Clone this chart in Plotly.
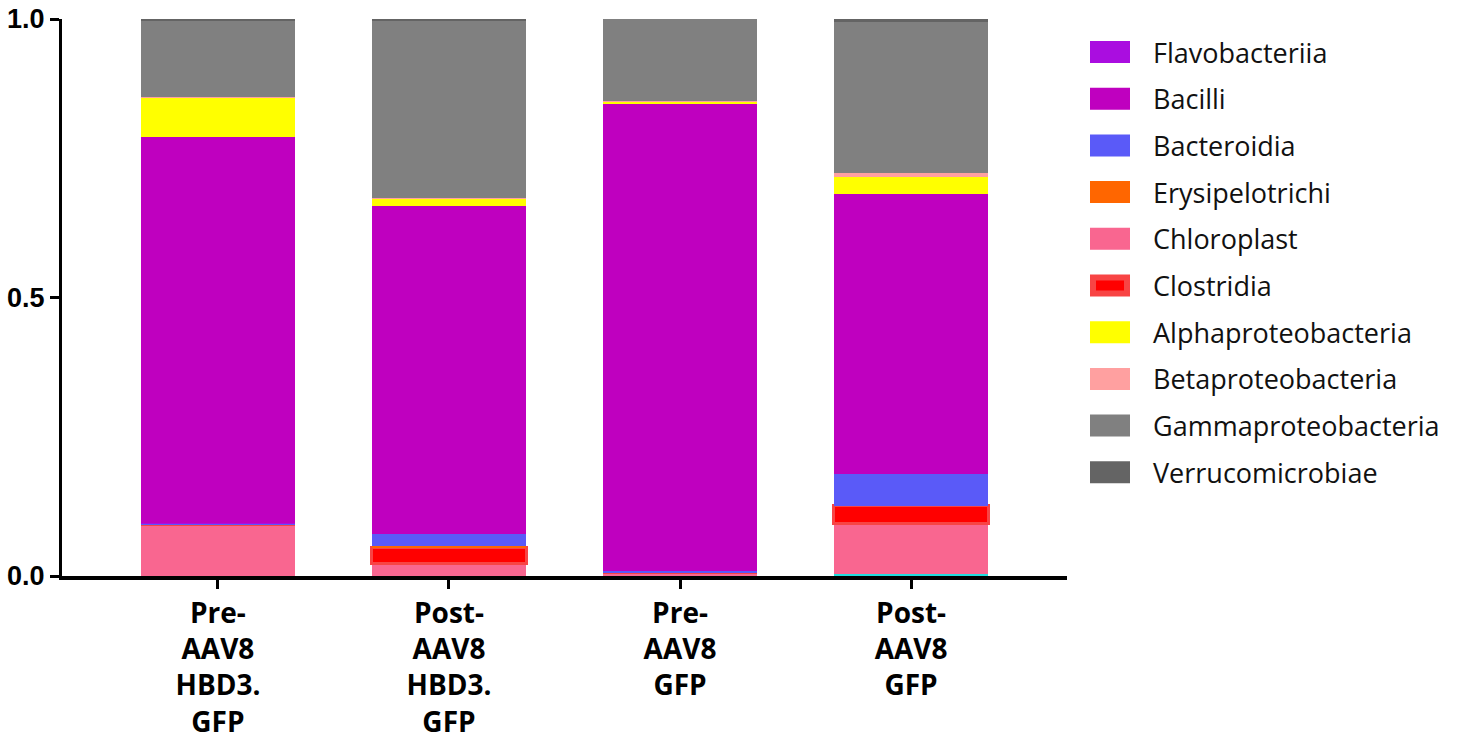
import plotly.graph_objects as go

categories = ["Pre-<br>AAV8<br>HBD3.<br>GFP", "Post-<br>AAV8<br>HBD3.<br>GFP",
              "Pre-<br>AAV8<br>GFP", "Post-<br>AAV8<br>GFP"]

# stacked bottom -> top
other = [0.0, 0.0, 0.0, 0.003]
chloroplast = [0.093, 0.022, 0.006, 0.092]
clostridia = [0.0, 0.029, 0.0, 0.031]
erysipelotrichi = [0.0, 0.002, 0.0, 0.0]
bacteroidia = [0.002, 0.023, 0.003, 0.057]
flavobacteriia = [0.001, 0.0, 0.0, 0.0]
bacilli = [0.693, 0.589, 0.838, 0.503]
alphaproteobacteria = [0.070, 0.012, 0.005, 0.031]
betaproteobacteria = [0.001, 0.002, 0.001, 0.007]
gammaproteobacteria = [0.137, 0.317, 0.147, 0.271]
verrucomicrobiae = [0.003, 0.004, 0.0, 0.005]

stack = [
    ("Other", other, "#22DDDD", None),
    ("Chloroplast", chloroplast, "#F96690", None),
    ("Clostridia", clostridia, "#FF0000", "#F84444"),
    ("Erysipelotrichi", erysipelotrichi, "#FF6600", None),
    ("Bacteroidia", bacteroidia, "#5A5AF8", None),
    ("Flavobacteriia", flavobacteriia, "#AA0DE0", None),
    ("Bacilli", bacilli, "#BF00BF", None),
    ("Alphaproteobacteria", alphaproteobacteria, "#FFFF00", None),
    ("Betaproteobacteria", betaproteobacteria, "#FFA0A0", None),
    ("Gammaproteobacteria", gammaproteobacteria, "#808080", None),
    ("Verrucomicrobiae", verrucomicrobiae, "#646464", None),
]

legend_order = ["Flavobacteriia", "Bacilli", "Bacteroidia", "Erysipelotrichi", "Chloroplast",
                "Clostridia", "Alphaproteobacteria", "Betaproteobacteria",
                "Gammaproteobacteria", "Verrucomicrobiae"]

fig = go.Figure()
style = {}
for name, vals, color, border in stack:
    style[name] = (color, border)
    fig.add_trace(go.Bar(
        x=list(range(len(categories))), y=vals, name=name,
        marker=dict(color=color,
                    line=dict(color=border if border else color, width=3 if border else 0)),
        showlegend=False,
    ))

# plot area geometry in pixels
W, H = 1465, 745
L, R, T, B = 62, 398, 19, 169
pw, ph = W - L - R, H - T - B

def px_to_paper(xp, yp):
    return (xp - L) / pw, (H - B - yp) / ph

shapes = []
annotations = []
row0, step = 52, 46.7
for i, name in enumerate(legend_order):
    color, border = style[name]
    yc = row0 + i * step
    x0, y0 = px_to_paper(1090, yc + 11)
    x1, y1 = px_to_paper(1130, yc - 11)
    if border:
        shapes.append(dict(type="rect", xref="paper", yref="paper", x0=x0, x1=x1, y0=y0, y1=y1,
                           fillcolor=border, line=dict(width=0)))
        ix0, iy0 = px_to_paper(1096, yc + 5)
        ix1, iy1 = px_to_paper(1124, yc - 5)
        shapes.append(dict(type="rect", xref="paper", yref="paper", x0=ix0, x1=ix1, y0=iy0, y1=iy1,
                           fillcolor=color, line=dict(width=0)))
    else:
        shapes.append(dict(type="rect", xref="paper", yref="paper", x0=x0, x1=x1, y0=y0, y1=y1,
                           fillcolor=color, line=dict(width=0)))
    tx, ty = px_to_paper(1151, yc)
    annotations.append(dict(text=name, xref="paper", yref="paper", x=tx, y=ty,
                            xanchor="left", yanchor="middle", showarrow=False,
                            font=dict(family="Open Sans", size=27, color="#111111")))

fig.update_layout(
    width=W, height=H,
    margin=dict(l=L, r=R, t=T, b=B, pad=0, autoexpand=False),
    barmode="stack", bargap=0.33,
    plot_bgcolor="white", paper_bgcolor="white",
    shapes=shapes, annotations=annotations,
    showlegend=False,
)
fig.update_xaxes(
    range=[-0.675, 3.675], tickmode="array", tickvals=list(range(len(categories))),
    ticktext=categories, showline=True, linecolor="black", linewidth=4,
    ticks="outside", ticklen=9, tickwidth=3, tickcolor="black",
    tickfont=dict(family="Open Sans", size=28, color="black", weight="bold"),
    showgrid=False, zeroline=False, tickangle=0, automargin=False,
)
fig.update_yaxes(
    range=[0, 1.0], tickvals=[0, 0.5, 1.0], ticktext=["0.0", "0.5", "1.0"],
    showline=True, linecolor="black", linewidth=3,
    ticks="outside", ticklen=9, tickwidth=3, tickcolor="black",
    tickfont=dict(family="Liberation Sans", size=27, color="black", weight="bold"),
    showgrid=False, zeroline=False, automargin=False,
)

fig.write_html("out.html", config={"displayModeBar": False},
               post_script="document.body.style.margin='0px';")
